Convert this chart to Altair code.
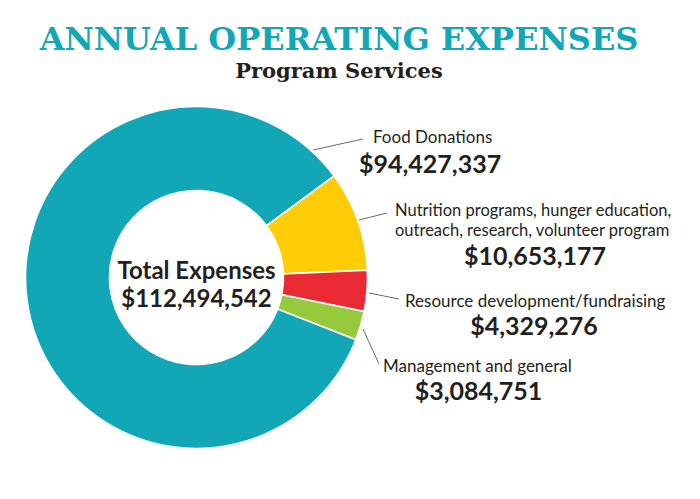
import math
import altair as alt
import pandas as pd

# ---- data ----
categories = [
    "Nutrition programs, hunger education, outreach, research, volunteer program",
    "Resource development/fundraising",
    "Management and general",
    "Food Donations",
]
label_lines = [
    ["Nutrition programs, hunger education,", "outreach, research, volunteer program"],
    ["Resource development/fundraising"],
    ["Management and general"],
    ["Food Donations"],
]
values = [10653177, 4329276, 3084751, 94427337]
total_shown = 112494542
colors = ["#FFCC05", "#EA2A33", "#97C93D", "#12A7B6"]

title_text = "ANNUAL OPERATING EXPENSES"
subtitle_text = "Program Services"

df = pd.DataFrame({"category": categories, "value": values, "idx": list(range(len(values)))})

W, H = 684, 483
OFF = 8  # page margin
def px(v):
    return v - OFF

start = math.radians(53.5)
CX, CY = px(196.5), px(277.5)

arc = alt.Chart(df).mark_arc(innerRadius=87, outerRadius=171, stroke="white", strokeWidth=1.6).encode(
    theta=alt.Theta("value:Q", stack=True, scale=alt.Scale(range=[start, start + 2 * math.pi])),
    color=alt.Color("category:N", scale=alt.Scale(domain=categories, range=colors), legend=None),
    order=alt.Order("idx:Q"),
    x=alt.value(CX),
    y=alt.value(CY),
)

TEXT = "#231F20"
SANS = "Lato"
SERIF = "DejaVu Serif"

def txt(t, x, y, size, weight="normal", align="left", font=SANS, color=TEXT):
    return alt.Chart(pd.DataFrame({"k": [0]})).mark_text(
        text=t, align=align, baseline="alphabetic", fontSize=size, fontWeight=weight, font=font, color=color
    ).encode(x=alt.value(px(x)), y=alt.value(px(y)))

def leader(x1, y1, x2, y2):
    return alt.Chart(pd.DataFrame({"a": [0]})).mark_rule(color="#444444", strokeWidth=0.8).encode(
        x=alt.value(px(x1)), y=alt.value(px(y1)), x2=alt.value(px(x2)), y2=alt.value(px(y2))
    )

def money(v):
    return f"${v:,}"

layers = [arc]
# titles
layers.append(txt(title_text, 339, 49.5, 32, "bold", "center", SERIF, "#12A7B6"))
layers.append(txt(subtitle_text, 339, 78, 21, "bold", "center", SERIF, TEXT))
# center
layers.append(txt("Total Expenses", 196.5, 279, 24, "bold", "center"))
layers.append(txt(money(total_shown), 196.5, 307, 24, "bold", "center"))

# Food Donations
layers.append(leader(313, 150, 363, 139))
layers.append(txt(label_lines[3][0], 373, 143, 17))
layers.append(txt(money(values[3]), 359, 173, 25, "bold"))
# Nutrition
layers.append(leader(359, 220, 387, 213))
layers.append(txt(label_lines[0][0], 395, 216, 16.5))
layers.append(txt(label_lines[0][1], 395, 236, 16.5))
layers.append(txt(money(values[0]), 535, 265, 25, "bold", "center"))
# Resource
layers.append(leader(369, 293, 399, 299))
layers.append(txt(label_lines[1][0], 405, 307, 17))
layers.append(txt(money(values[1]), 534, 335, 25, "bold", "center"))
# Management
layers.append(leader(363, 329, 379, 364))
layers.append(txt(label_lines[2][0], 383, 372, 17))
layers.append(txt(money(values[2]), 478.5, 400, 25, "bold", "center"))

chart = alt.layer(*layers).properties(
    width=W, height=H, padding=0, autosize="none", background="white"
).configure_view(stroke=None)

chart.save("out.html", embed_options={"renderer": "svg", "actions": False})
